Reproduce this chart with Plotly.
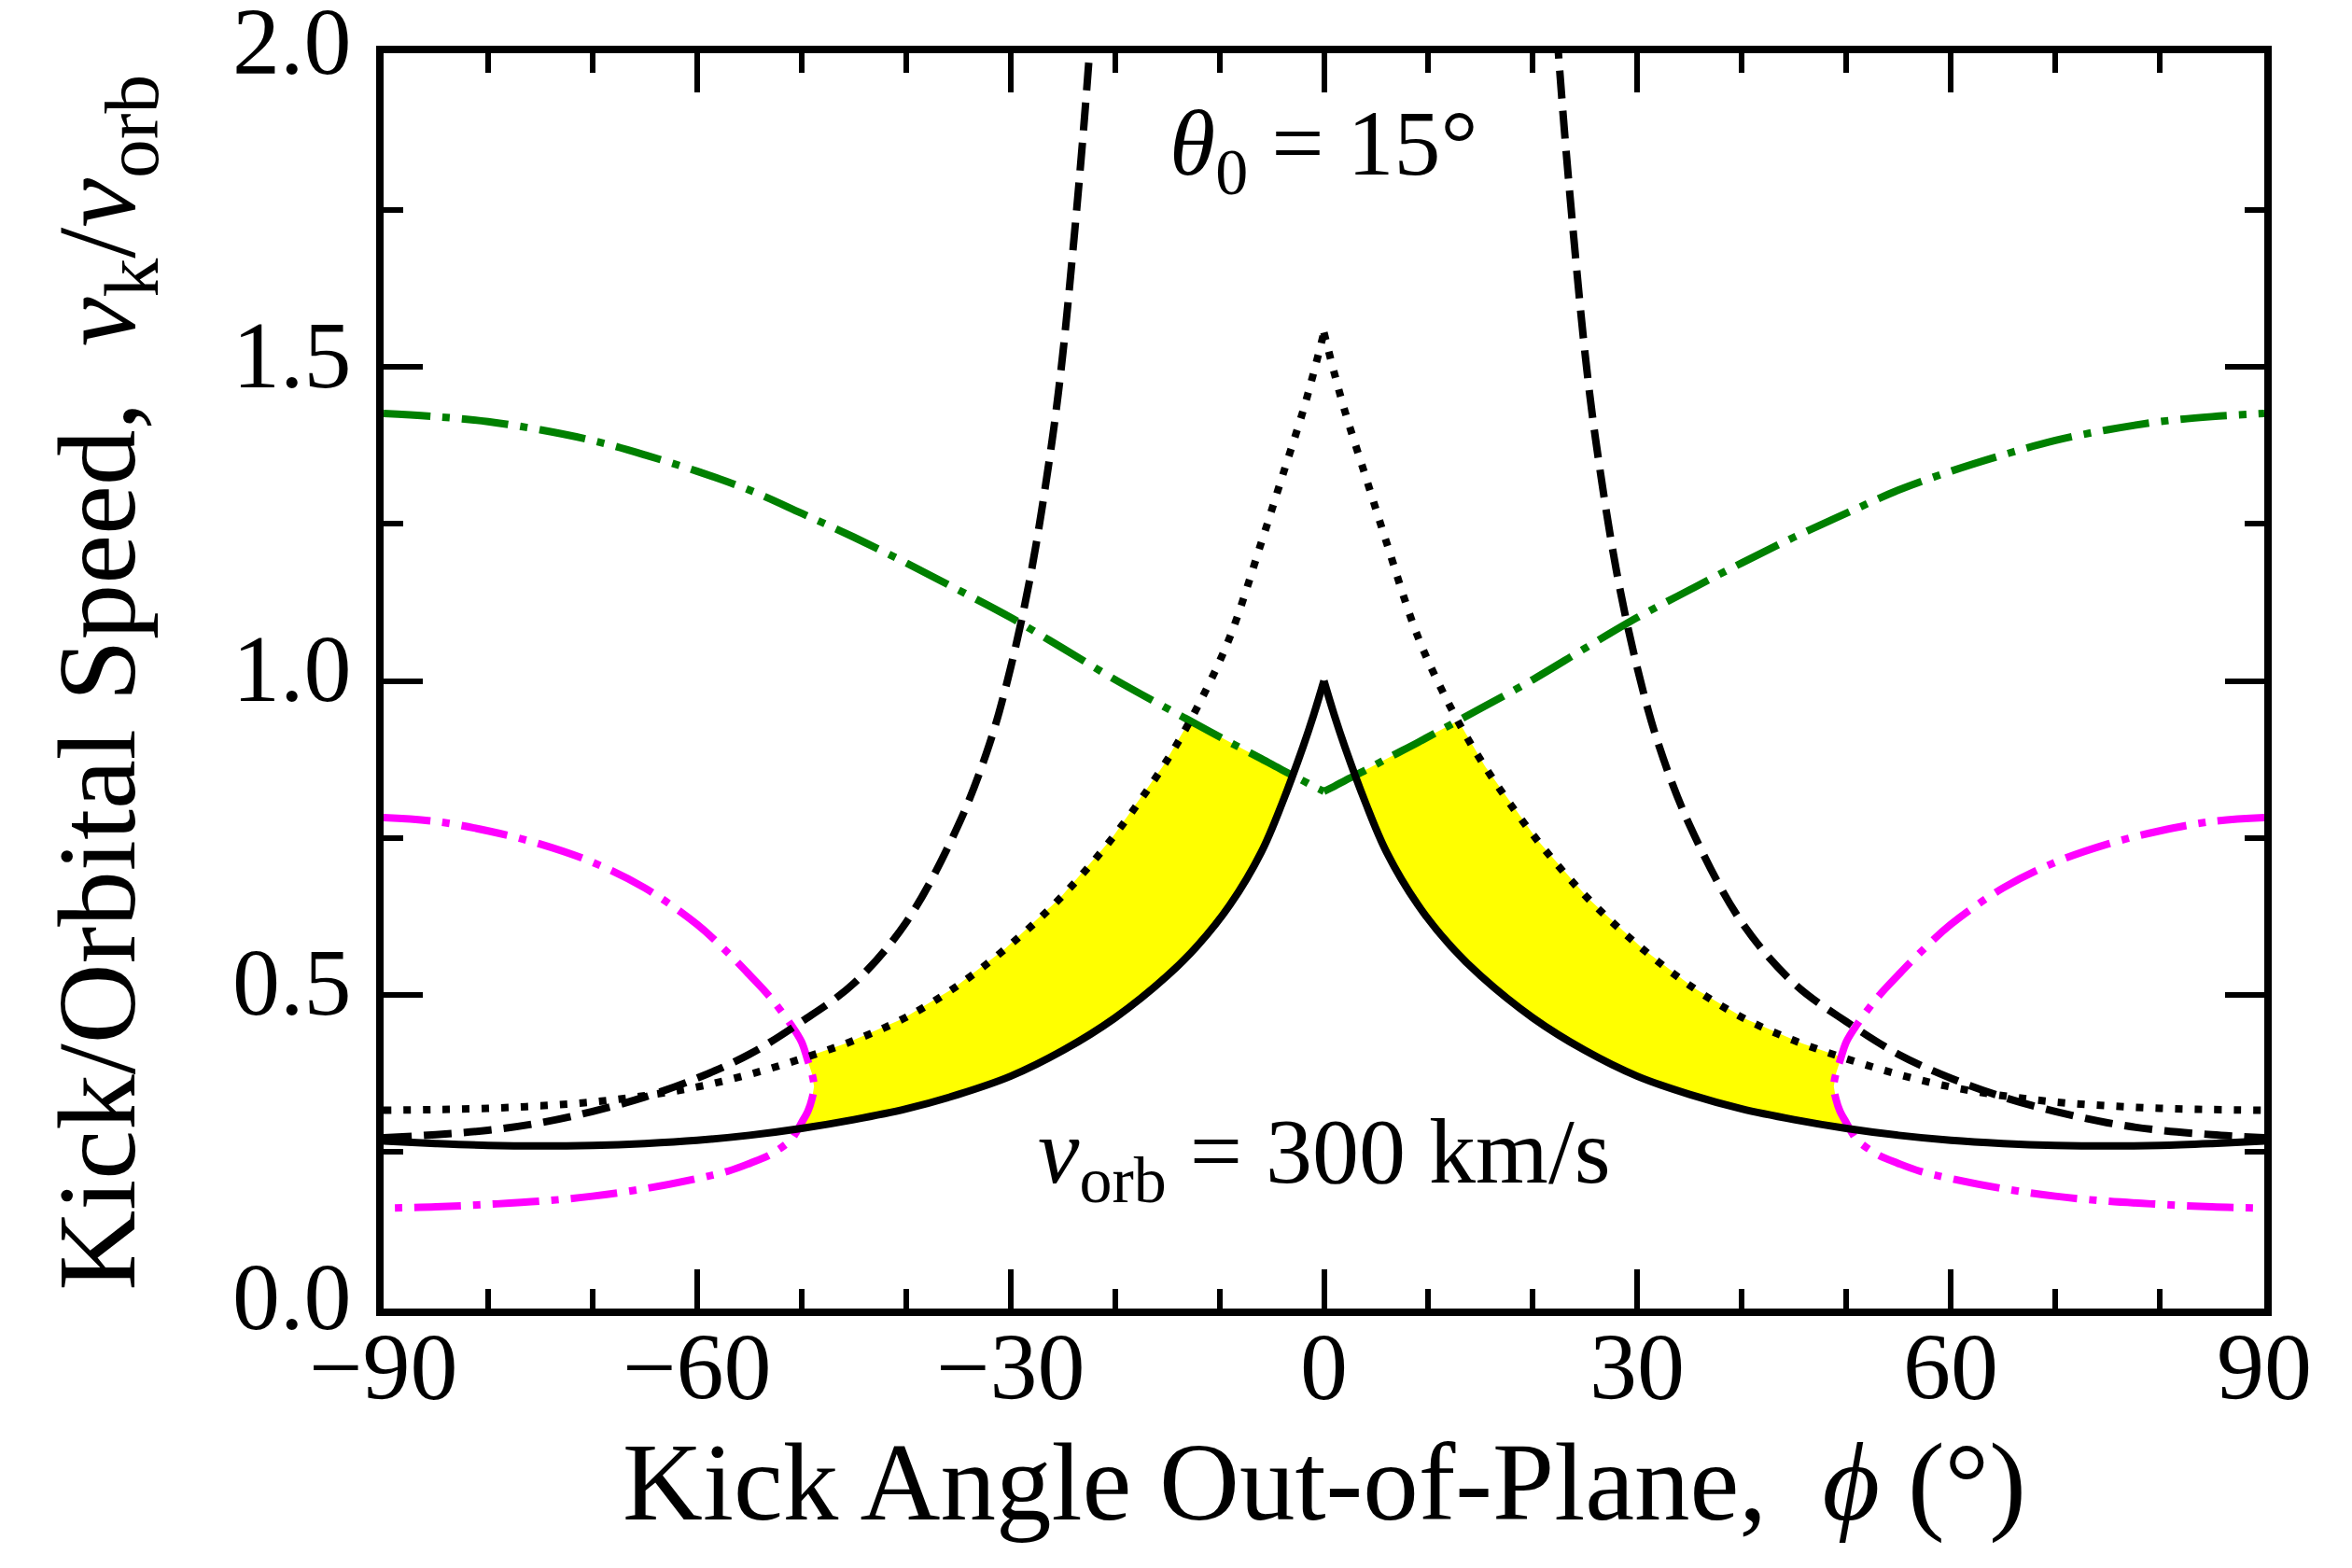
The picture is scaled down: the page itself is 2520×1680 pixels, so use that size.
import numpy as np
import plotly.graph_objects as go

# kick angle grid (deg) shared by the solid, dotted and green curves
PHI = [-90, -85, -80, -75, -70, -65, -60, -55, -50, -45, -40, -35, -30, -25, -20, -15, -12, -9, -6, -4, -2, -1, 0,
       1, 2, 4, 6, 9, 12, 15, 20, 25, 30, 35, 40, 45, 50, 55, 60, 65, 70, 75, 80, 85, 90]

SOLID = [0.267, 0.263, 0.260, 0.259, 0.260, 0.263, 0.268, 0.276, 0.287, 0.301, 0.318, 0.341, 0.370, 0.411, 0.463,
         0.530, 0.580, 0.643, 0.727, 0.805, 0.895, 0.945, 1.000,
         0.945, 0.895, 0.805, 0.727, 0.643, 0.580, 0.530, 0.463, 0.411, 0.370, 0.341, 0.318, 0.301, 0.287, 0.276,
         0.268, 0.263, 0.260, 0.259, 0.260, 0.263, 0.267]

DOTTED = [0.316, 0.317, 0.319, 0.323, 0.329, 0.339, 0.353, 0.373, 0.398, 0.427, 0.464, 0.515, 0.580, 0.658, 0.755,
          0.874, 0.962, 1.070, 1.220, 1.325, 1.430, 1.490, 1.555,
          1.490, 1.430, 1.325, 1.220, 1.070, 0.962, 0.874, 0.755, 0.658, 0.580, 0.515, 0.464, 0.427, 0.398, 0.373,
          0.353, 0.339, 0.329, 0.323, 0.319, 0.317, 0.316]

GREEN = [1.426, 1.421, 1.413, 1.400, 1.383, 1.360, 1.334, 1.304, 1.267, 1.229, 1.188, 1.145, 1.101, 1.052, 1.002,
         0.956, 0.929, 0.902, 0.876, 0.858, 0.841, 0.832, 0.824,
         0.832, 0.841, 0.858, 0.876, 0.902, 0.929, 0.956, 1.002, 1.052, 1.101, 1.145, 1.188, 1.229, 1.267, 1.304,
         1.334, 1.360, 1.383, 1.400, 1.413, 1.421, 1.426]

# dashed curve leaves the top of the plot near +-22 deg
DASH_PHI = [-90, -85, -80, -75, -70, -65, -60, -55, -50, -45, -40, -35, -32, -30, -28, -26, -25, -24, -23, -22, None,
            22, 23, 24, 25, 26, 28, 30, 32, 35, 40, 45, 50, 55, 60, 65, 70, 75, 80, 85, 90]
DASH_V = [0.272, 0.277, 0.284, 0.296, 0.314, 0.337, 0.367, 0.405, 0.457, 0.518, 0.615, 0.770, 0.900, 1.020, 1.175,
          1.385, 1.520, 1.690, 1.880, 2.100, None,
          2.100, 1.880, 1.690, 1.520, 1.385, 1.175, 1.020, 0.900, 0.770, 0.615, 0.518, 0.457, 0.405, 0.367, 0.337,
          0.314, 0.296, 0.284, 0.277, 0.272]

# magenta loops: upper branch out to the tip, then lower branch back
MAG_PHI_L = [-90, -85, -80, -75, -70, -65, -60, -57, -55, -53, -51, -50, -49.4, -49.0, -48.8,
             -49.0, -49.4, -50, -50.5, -51, -53, -55, -57, -60, -65, -70, -75, -80, -85, -90]
MAG_V_L = [0.782, 0.776, 0.761, 0.740, 0.711, 0.670, 0.612, 0.566, 0.532, 0.496, 0.452, 0.425, 0.395, 0.374, 0.354,
           0.334, 0.314, 0.296, 0.281, 0.269, 0.245, 0.231, 0.219, 0.207, 0.191, 0.179, 0.171, 0.166, 0.162, 0.160]
MAG_PHI_R = [90, 85, 80, 75, 70, 65, 60, 57, 55, 53, 51, 50, 49.4, 49.0, 48.8,
             49.0, 49.4, 50, 50.5, 51, 53, 55, 57, 60, 65, 70, 75, 80, 85, 90]
MAG_V_R = [0.782, 0.776, 0.761, 0.740, 0.711, 0.670, 0.612, 0.566, 0.532, 0.496, 0.452, 0.425, 0.395, 0.374, 0.354,
           0.334, 0.314, 0.296, 0.281, 0.269, 0.245, 0.231, 0.219, 0.207, 0.191, 0.179, 0.171, 0.166, 0.162, 0.160]

X_TICKS = [-90, -60, -30, 0, 30, 60, 90]
X_LABELS = ['\u221290', '\u221260', '\u221230', '0', '30', '60', '90']
Y_TICKS = [0.0, 0.5, 1.0, 1.5, 2.0]
Y_LABELS = ['0.0', '0.5', '1.0', '1.5', '2.0']

FONT = "Liberation Serif, DejaVu Serif, serif"
BLACK = 'black'


def f_sol(x):
    return np.interp(x, PHI, SOLID)


def f_dot(x):
    return np.interp(x, PHI, DOTTED)


def f_grn(x):
    return np.interp(x, PHI, GREEN)


def crossing(px, py, f):
    d = np.asarray(py) - f(np.asarray(px, dtype=float))
    for i in range(len(d) - 1):
        if d[i] * d[i + 1] < 0:
            t = d[i] / (d[i] - d[i + 1])
            return i, px[i] + t * (px[i + 1] - px[i]), py[i] + t * (py[i + 1] - py[i])


def yellow_region(mphi, mv):
    # solid < v < min(dotted, green), on the inner side of the magenta loop
    ia, xa, ya = crossing(mphi, mv, f_dot)
    ic, xc, yc = crossing(mphi, mv, f_sol)
    s = np.linspace(xa, 0, 4000)
    gap = np.minimum(f_dot(s), f_grn(s)) - f_sol(s)
    xb = s[np.argmax(gap <= 0)]
    top = np.linspace(xa, xb, 400)
    bot = np.linspace(xc, xb, 400)
    px = [xa] + list(mphi[ia + 1:ic + 1]) + [xc] + list(bot) + list(top[::-1])
    py = [ya] + list(mv[ia + 1:ic + 1]) + [yc] + list(f_sol(bot)) + \
        list(np.minimum(f_dot(top), f_grn(top))[::-1])
    return px, py


def halves(xs, ys):
    # split at the cusp so each side is smoothed on its own
    k = xs.index(0)
    return [(xs[:k + 1], ys[:k + 1]), (xs[k:], ys[k:])]


fig = go.Figure()

for mphi, mv in [(MAG_PHI_L, MAG_V_L), (MAG_PHI_R, MAG_V_R)]:
    px, py = yellow_region(mphi, mv)
    fig.add_trace(go.Scatter(x=px, y=py, mode='lines', fill='toself', fillcolor='#FFFF00',
                             line=dict(width=0), hoverinfo='skip'))

for mphi, mv in [(MAG_PHI_L, MAG_V_L), (MAG_PHI_R, MAG_V_R)]:
    fig.add_trace(go.Scatter(x=mphi, y=mv, mode='lines', line_shape='spline',
                             line=dict(color='#FF00FF', width=8, dash='50px,13px,8px,13px')))

for xs, ys in halves(PHI, GREEN):
    fig.add_trace(go.Scatter(x=xs, y=ys, mode='lines', line_shape='spline',
                             line=dict(color='#008000', width=8, dash='50px,13px,8px,13px')))

fig.add_trace(go.Scatter(x=DASH_PHI, y=DASH_V, mode='lines', connectgaps=False, line_shape='spline',
                         line=dict(color=BLACK, width=8, dash='30px,13px')))

for xs, ys in halves(PHI, DOTTED):
    fig.add_trace(go.Scatter(x=xs, y=ys, mode='lines', line_shape='spline',
                             line=dict(color=BLACK, width=8, dash='8px,13px')))

for xs, ys in halves(PHI, SOLID):
    fig.add_trace(go.Scatter(x=xs, y=ys, mode='lines', line_shape='spline',
                             line=dict(color=BLACK, width=8)))

axis_common = dict(showline=True, linewidth=8, linecolor=BLACK, mirror='ticks',
                   ticks='inside', ticklen=42, tickwidth=6, tickcolor=BLACK,
                   showgrid=False, zeroline=False, showticklabels=False)

fig.update_xaxes(range=[-90, 90], tickvals=X_TICKS,
                 minor=dict(ticks='inside', ticklen=21, tickwidth=6, tickcolor=BLACK, dtick=10, tick0=0),
                 **axis_common)
fig.update_yaxes(range=[0, 2], tickvals=Y_TICKS,
                 minor=dict(ticks='inside', ticklen=21, tickwidth=6, tickcolor=BLACK, dtick=0.25, tick0=0),
                 **axis_common)

tick_font = dict(family=FONT, size=102, color=BLACK)
for v, lab in zip(X_TICKS, X_LABELS):
    fig.add_annotation(x=v, y=-0.0468, xref='x', yref='paper', text=lab, showarrow=False,
                       xanchor='center', yanchor='middle', font=tick_font)
for v, lab in zip(Y_TICKS, Y_LABELS):
    fig.add_annotation(x=-0.0159, y=v, xref='paper', yref='y', yshift=13, text=lab, showarrow=False,
                       xanchor='right', yanchor='middle', font=tick_font)

text_font = dict(family=FONT, size=100, color=BLACK)
fig.add_annotation(x=0, y=1.83, xref='x', yref='y', yshift=11, showarrow=False,
                   text='<i>θ</i><sub>0</sub> = 15°', font=text_font)
fig.add_annotation(x=0, y=0.228, xref='x', yref='y', yshift=8, showarrow=False,
                   text='<i>v</i><sub>orb</sub> = 300 km/s', font=text_font)

title_font = dict(family=FONT, size=119, color=BLACK)
fig.add_annotation(x=0.5, y=-0.138, xref='paper', yref='paper', showarrow=False,
                   xanchor='center', yanchor='middle',
                   text='Kick Angle Out-of-Plane,\u00a0\u00a0<i>\u03d5</i> (°)', font=title_font)
fig.add_annotation(x=-0.148, y=0.499, xref='paper', yref='paper', showarrow=False, textangle=-90,
                   xanchor='center', yanchor='middle',
                   text='Kick/Orbital Speed,\u00a0\u00a0<i>v</i><sub>k</sub>/<i>v</i><sub>orb</sub>',
                   font=title_font)

fig.update_layout(width=2520, height=1680, showlegend=False,
                  margin=dict(l=403, r=102, t=49, b=286),
                  plot_bgcolor='white', paper_bgcolor='white')

fig.write_html("out.html")
